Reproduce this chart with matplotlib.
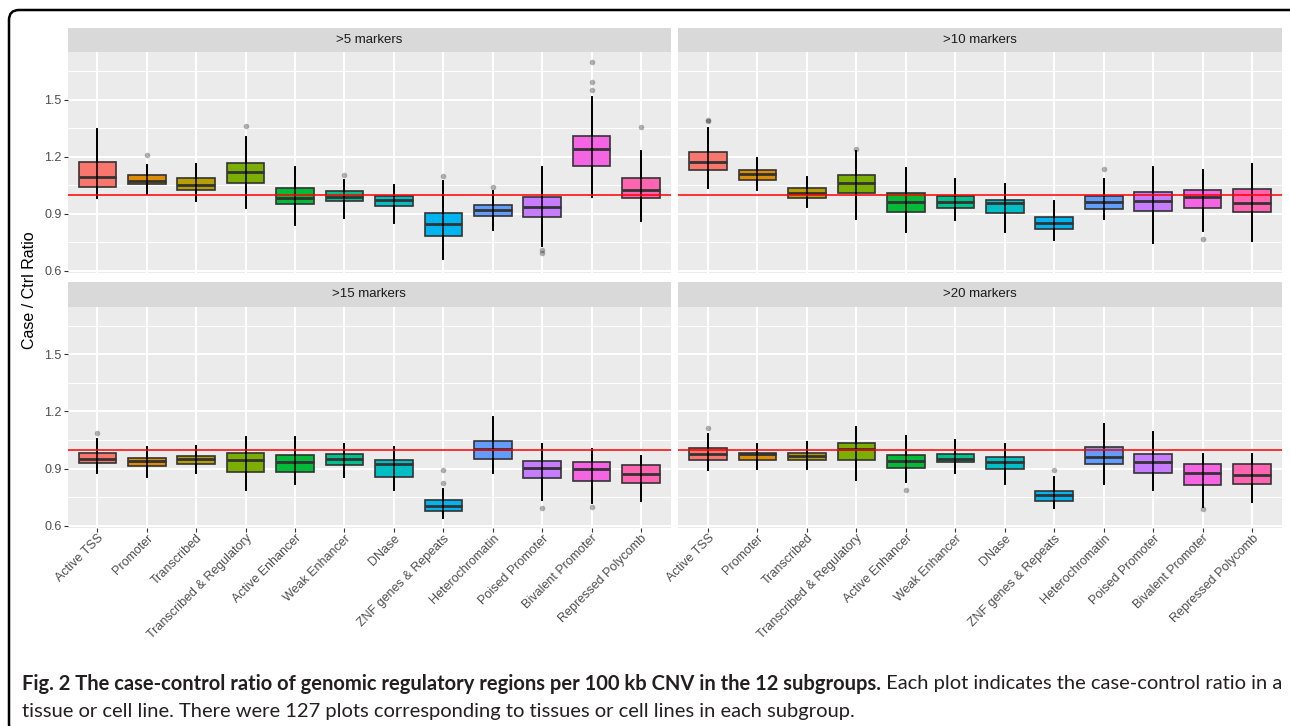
import matplotlib
matplotlib.use("Agg")
import matplotlib.pyplot as plt
from matplotlib.patches import FancyBboxPatch
from matplotlib.transforms import IdentityTransform

# categories and fill colours (ggplot hue palette)
categories = [
    "Active TSS", "Promoter", "Transcribed", "Transcribed & Regulatory",
    "Active Enhancer", "Weak Enhancer", "DNase", "ZNF genes & Repeats",
    "Heterochromatin", "Poised Promoter", "Bivalent Promoter", "Repressed Polycomb",
]
colors = [
    "#F8766D", "#DE8C00", "#B79F00", "#7CAE00", "#00BA38", "#00C08B",
    "#00BFC4", "#00B4F0", "#619CFF", "#C77CFF", "#F564E3", "#FF64B0",
]
panels = [">5 markers", ">10 markers", ">15 markers", ">20 markers"]

# box statistics, one row per panel
medians = [
    [1.093, 1.074, 1.053, 1.119, 0.982, 0.986, 0.974, 0.846, 0.918, 0.935, 1.240, 1.026],
    [1.174, 1.109, 1.012, 1.060, 0.960, 0.961, 0.956, 0.854, 0.960, 0.965, 0.986, 0.956],
    [0.952, 0.938, 0.949, 0.944, 0.935, 0.949, 0.926, 0.705, 1.001, 0.902, 0.900, 0.874],
    [0.979, 0.975, 0.966, 1.001, 0.938, 0.952, 0.933, 0.759, 0.961, 0.935, 0.876, 0.867],
]
q1s = [
    [1.042, 1.058, 1.023, 1.063, 0.953, 0.970, 0.940, 0.786, 0.891, 0.884, 1.149, 0.982],
    [1.132, 1.077, 0.981, 1.007, 0.912, 0.932, 0.904, 0.818, 0.928, 0.916, 0.930, 0.909],
    [0.930, 0.916, 0.923, 0.883, 0.884, 0.917, 0.858, 0.675, 0.952, 0.849, 0.837, 0.823],
    [0.947, 0.947, 0.944, 0.945, 0.902, 0.935, 0.898, 0.731, 0.926, 0.879, 0.816, 0.820],
]
q3s = [
    [1.172, 1.104, 1.086, 1.165, 1.035, 1.018, 0.996, 0.907, 0.946, 0.991, 1.307, 1.086],
    [1.223, 1.132, 1.035, 1.105, 1.012, 0.996, 0.972, 0.881, 0.993, 1.016, 1.023, 1.032],
    [0.982, 0.956, 0.966, 0.982, 0.970, 0.975, 0.947, 0.736, 1.043, 0.938, 0.935, 0.921],
    [1.008, 0.984, 0.984, 1.034, 0.972, 0.977, 0.961, 0.783, 1.013, 0.975, 0.924, 0.924],
]
whis_lo = [
    [0.982, 1.005, 0.965, 0.930, 0.842, 0.877, 0.854, 0.661, 0.816, 0.732, 0.991, 0.863],
    [1.035, 1.026, 0.935, 0.872, 0.804, 0.868, 0.807, 0.763, 0.872, 0.749, 0.811, 0.760],
    [0.877, 0.856, 0.877, 0.790, 0.818, 0.856, 0.790, 0.643, 0.877, 0.734, 0.720, 0.729],
    [0.895, 0.900, 0.900, 0.839, 0.830, 0.877, 0.818, 0.694, 0.821, 0.787, 0.699, 0.725],
]
whis_hi = [
    [1.346, 1.154, 1.163, 1.302, 1.144, 1.080, 1.053, 1.074, 1.018, 1.144, 1.512, 1.228],
    [1.351, 1.191, 1.096, 1.230, 1.140, 1.084, 1.058, 0.965, 1.084, 1.144, 1.130, 1.160],
    [1.057, 1.013, 1.019, 1.066, 1.066, 1.031, 1.013, 0.795, 1.171, 1.031, 1.005, 0.966],
    [1.080, 1.031, 1.040, 1.118, 1.071, 1.052, 1.031, 0.856, 1.132, 1.092, 0.979, 0.975],
]
# points visible beyond the whiskers
outliers = [
    [[], [1.209], [], [1.36], [], [1.102], [], [1.100], [1.042], [0.693, 0.712],
     [1.697, 1.593, 1.549], [1.356]],
    [[1.395, 1.388], [], [], [1.240], [], [], [], [], [1.137], [], [0.767], []],
    [[1.087], [], [], [], [], [], [], [0.891, 0.827], [], [0.691], [0.700], []],
    [[1.113], [], [], [], [0.790], [], [], [0.891], [], [], [0.690], []],
]

W, H = 1290, 726
fig = plt.figure(figsize=(W / 100, H / 100), dpi=100)


def px_axes(left, top, right, bottom, **kw):
    return fig.add_axes([left / W, 1 - bottom / H, (right - left) / W, (bottom - top) / H], **kw)


cols = [(67.7, 670.7), (678.3, 1281.8)]
rows = [(27.5, 52.0, 272.7), (281.7, 306.7, 527.5)]
xpos = list(range(1, len(categories) + 1))

for k, name in enumerate(panels):
    r, c = divmod(k, 2)
    x0, x1 = cols[c]
    s0, p0, p1 = rows[r]

    strip = px_axes(x0, s0, x1, p0, facecolor="#D9D9D9")
    strip.set_xticks([])
    strip.set_yticks([])
    for sp in strip.spines.values():
        sp.set_visible(False)
    strip.text(0.5, 0.5, name, ha="center", va="center", fontsize=9.5,
               color="#1A1A1A", family="Liberation Sans", transform=strip.transAxes)

    ax = px_axes(x0, p0, x1, p1, facecolor="#EBEBEB")
    for sp in ax.spines.values():
        sp.set_visible(False)

    stats = []
    for i in range(len(categories)):
        stats.append(dict(med=medians[k][i], q1=q1s[k][i], q3=q3s[k][i],
                          whislo=whis_lo[k][i], whishi=whis_hi[k][i],
                          fliers=outliers[k][i]))
    bp = ax.bxp(stats, positions=xpos, widths=0.76, patch_artist=True,
                showcaps=False, showfliers=True, manage_ticks=False,
                boxprops=dict(edgecolor="#333333", lw=1.2),
                medianprops=dict(color="#333333", lw=2.0),
                whiskerprops=dict(color="black", lw=1.4),
                flierprops=dict(marker="o", markersize=4, markerfacecolor="black",
                                markeredgecolor="none", alpha=0.3))
    for patch, col in zip(bp["boxes"], colors):
        patch.set_facecolor(col)
        patch.set_zorder(2)
    for m in bp["medians"]:
        m.set_zorder(3)
    ax.vlines(xpos, whis_lo[k], whis_hi[k], color="black", lw=1.4, alpha=0.8, zorder=4)
    ax.axhline(1.0, color="red", lw=1.1, zorder=6)

    ax.set_xlim(0.4, 12.6)
    ax.set_ylim(0.591, 1.75)
    ax.set_yticks([0.6, 0.9, 1.2, 1.5])
    ax.set_yticks([0.75, 1.05, 1.35, 1.65], minor=True)
    ax.set_xticks(xpos)
    ax.grid(True, which="major", color="white", lw=1.4)
    ax.grid(True, which="minor", axis="y", color="white", lw=0.7)
    ax.set_axisbelow(True)

    ax.tick_params(axis="both", colors="#333333", length=3, width=0.8,
                   labelcolor="#4D4D4D", labelsize=9, pad=1.5)
    ax.tick_params(axis="x", pad=0.5)
    ax.tick_params(axis="y", which="minor", left=False)
    for lab in ax.get_yticklabels():
        lab.set_family("Liberation Sans")
    if c == 1:
        ax.tick_params(axis="y", left=False, labelleft=False)
    if r == 0:
        ax.tick_params(axis="x", bottom=False, labelbottom=False)
    else:
        ax.set_xticklabels(categories, rotation=45, ha="right", va="top",
                           rotation_mode="anchor", family="Liberation Sans")

fig.text(29 / W, 1 - 290 / H, "Case / Ctrl Ratio", rotation=90, ha="center", va="center",
         fontsize=11.5, family="Liberation Sans", color="black")

# caption
bold_part = ("Fig. 2 The case-control ratio of genomic regulatory regions per 100 kb CNV "
             "in the 12 subgroups.")
rest_part = " Each plot indicates the case-control ratio in a"
line2 = ("tissue or cell line. There were 127 plots corresponding to tissues or cell lines "
         "in each subgroup.")
renderer = fig.canvas.get_renderer()
fs = 13.0
t1 = fig.text(22 / W, 1 - 684 / H, bold_part, fontsize=fs, fontweight="bold",
              family="Lato", va="center", color="#231F20")
t2 = fig.text(0, 1 - 684 / H, rest_part, fontsize=fs, family="Lato", va="center",
              color="#231F20")
t3 = fig.text(22 / W, 1 - 711 / H, line2, fontsize=fs, family="Lato", va="center",
              color="#231F20")
for _ in range(3):
    b1 = t1.get_window_extent(renderer)
    t2.set_x(b1.x1 / W)
    b2 = t2.get_window_extent(renderer)
    fs = fs * (1280 - 22) / (b2.x1 - 22)
    for t in (t1, t2, t3):
        t.set_fontsize(fs)
b1 = t1.get_window_extent(renderer)
t2.set_x(b1.x1 / W)

# page frame: only the top and left edges fall inside the image
frame = FancyBboxPatch((9, -8), 1300, 724, boxstyle="round,pad=0,rounding_size=10",
                       transform=IdentityTransform(), fill=False, edgecolor="black", lw=1.8)
fig.add_artist(frame)

fig.savefig("out.png", dpi=100)
